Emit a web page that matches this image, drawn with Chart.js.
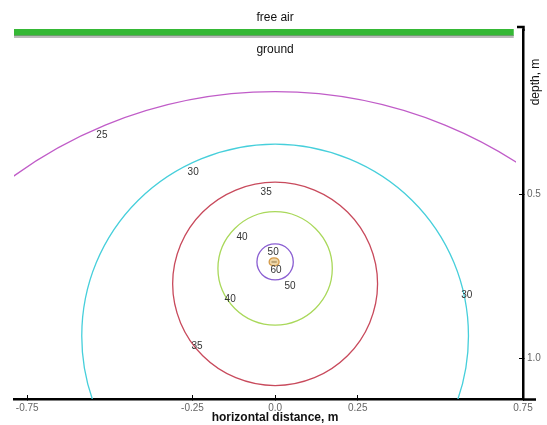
<!DOCTYPE html>
<html>
<head>
<meta charset="utf-8">
<script src="https://cdn.jsdelivr.net/npm/chart.js@4.4.1/dist/chart.umd.min.js"></script>
<style>
  html, body { margin: 0; padding: 0; background: #fff; }
  #wrap { width: 547px; height: 425px; }
</style>
</head>
<body>
<div id="wrap"><canvas id="isotherms"></canvas></div>
<script>
/** ISOTHERMS AROUND A BURIED SOURCE **/

// contour levels and their points: [horizontal distance (m), depth (m)]
var levels = ['25', '30', '35', '40', '50', '60'];

// open arc (only the top of this one is inside the plot)
var contour25 = [[-1.342, 1.530], [-1.240, 1.016], [-0.949, 0.581], [-0.514, 0.290], [0, 0.188],
    [0.514, 0.290], [0.949, 0.581], [1.240, 1.016], [1.342, 1.530]];

// closed loops
var contour30 = [[0, 1.518], [-0.224, 1.473], [-0.414, 1.347], [-0.541, 1.157], [-0.585, 0.933],
    [-0.541, 0.709], [-0.414, 0.519], [-0.224, 0.393], [0, 0.348], [0.224, 0.393], [0.414, 0.519],
    [0.541, 0.709], [0.585, 0.933], [0.541, 1.157], [0.414, 1.347], [0.224, 1.473]];

var contour35 = [[0, 1.084], [-0.119, 1.060], [-0.219, 0.993], [-0.286, 0.893], [-0.310, 0.774],
    [-0.286, 0.655], [-0.219, 0.555], [-0.119, 0.488], [0, 0.464], [0.119, 0.488], [0.219, 0.555],
    [0.286, 0.655], [0.310, 0.774], [0.286, 0.893], [0.219, 0.993], [0.119, 1.060]];

var contour40 = [[0, 0.900], [-0.066, 0.887], [-0.122, 0.849], [-0.160, 0.793], [-0.173, 0.727],
    [-0.160, 0.661], [-0.122, 0.605], [-0.066, 0.567], [0, 0.554], [0.066, 0.567], [0.122, 0.605],
    [0.160, 0.661], [0.173, 0.727], [0.160, 0.793], [0.122, 0.849], [0.066, 0.887]];

var contour50 = [[0, 0.762], [-0.021, 0.758], [-0.039, 0.746], [-0.051, 0.728], [-0.055, 0.707],
    [-0.051, 0.686], [-0.039, 0.668], [-0.021, 0.656], [0, 0.652], [0.021, 0.656], [0.039, 0.668],
    [0.051, 0.686], [0.055, 0.707], [0.051, 0.728], [0.039, 0.746], [0.021, 0.758]];

var contour60 = [[0.012, 0.707], [0.008, 0.716], [-0.003, 0.719], [-0.014, 0.716], [-0.018, 0.707],
    [-0.014, 0.698], [-0.003, 0.695], [0.008, 0.698]];

var source = [[-0.011, 0.707], [0.005, 0.707]];
var groundLine = [[-0.79, 0.008], [0.722, 0.008]];

// contour labels
var labelText  = ['25', '30', '35', '40', '50', '60', '50', '40', '35', '30'];
var labelX     = [-0.524, -0.248, -0.027, -0.100, -0.006, 0.003, 0.045, -0.136, -0.236, 0.580];
var labelDepth = [0.320, 0.433, 0.494, 0.631, 0.677, 0.732, 0.780, 0.820, 0.963, 0.808];

// tick labels
var xTicks = [-0.75, -0.25, 0, 0.25, 0.75];
var yTicks = [0.5, 1.0];

var FONT = '"Liberation Sans", Arial, sans-serif';
Chart.defaults.font.family = FONT;

function pts(arr) {
    return arr.map(function (p) { return { x: p[0], y: p[1] }; });
}

// wrap a closed loop so every visible piece has a neighbour on both sides;
// the two extra end pieces are drawn transparent
function loop(arr) {
    return pts([arr[arr.length - 1]].concat(arr, [arr[0], arr[1]]));
}

var overlay = {
    id: 'overlay',
    afterDraw: function (chart) {
        var ctx = chart.ctx, a = chart.chartArea;
        var x = chart.scales.x, y = chart.scales.y;
        ctx.save();

        // axis line extensions
        ctx.strokeStyle = '#000';
        ctx.lineWidth = 2.5;
        ctx.beginPath();
        ctx.moveTo(a.right, a.bottom + 0.5);
        ctx.lineTo(a.right + 13, a.bottom + 0.5);
        ctx.moveTo(a.right - 6, a.top - 3);
        ctx.lineTo(a.right + 0.5, a.top - 3);
        ctx.lineTo(a.right + 0.5, a.top + 1);
        ctx.stroke();

        // contour labels
        ctx.font = '10px ' + FONT;
        ctx.fillStyle = '#333';
        ctx.textAlign = 'center';
        ctx.textBaseline = 'middle';
        labelText.forEach(function (t, i) {
            ctx.fillText(t, x.getPixelForValue(labelX[i]), y.getPixelForValue(labelDepth[i]));
        });

        // region labels
        var cx = x.getPixelForValue(0);
        ctx.fillStyle = '#111';
        ctx.font = '12px ' + FONT;
        ctx.fillText('free air', cx, a.top - 12);
        ctx.fillText('ground', cx, a.top + 20);

        // axis titles
        ctx.font = 'bold 12px ' + FONT;
        ctx.fillText('horizontal distance, m', (a.left + a.right + 13) / 2, a.bottom + 19);
        ctx.translate(a.right + 13, a.top + 52);
        ctx.rotate(-Math.PI / 2);
        ctx.font = '12px ' + FONT;
        ctx.fillText('depth, m', 0, 0);
        ctx.restore();
    }
};

function contourSet(data, color, extra) {
    var ds = {
        label: '',
        data: data,
        showLine: true,
        borderColor: color,
        borderWidth: 1.3,
        pointRadius: 0,
        tension: 0.343,
        fill: false
    };
    return Object.assign(ds, extra || {});
}

function loopSet(arr, color, extra) {
    var n = arr.length + 3;
    return contourSet(loop(arr), color, Object.assign({
        segment: {
            borderColor: function (c) {
                return (c.p0DataIndex === 0 || c.p1DataIndex === n - 1) ? 'rgba(0,0,0,0)' : undefined;
            }
        }
    }, extra || {}));
}

var isotherms = document.getElementById("isotherms");

var isotherms = new Chart(isotherms, {
    type: 'scatter',
    data: {
        datasets: [
            contourSet(pts(groundLine.map(function (p) { return [p[0], p[1] + 0.012]; })),
                'rgba(140,140,140,0.6)', { borderWidth: 3, tension: 0, clip: false }),
            contourSet(pts(groundLine), '#35b835', { borderWidth: 7, tension: 0, clip: false }),
            contourSet(pts(groundLine), '#22a022', { borderWidth: 3, tension: 0, clip: false, borderDash: [2, 3] }),
            contourSet(pts(contour25), '#c05cc8', { clip: { left: 0, top: 0, right: -7, bottom: 0 } }),
            loopSet(contour30, '#46cfdb'),
            loopSet(contour35, '#c84a5c'),
            loopSet(contour40, '#a9d85a'),
            loopSet(contour50, '#8a5ed2'),
            loopSet(contour60, '#d49a48', { tension: 0.375, fill: 'shape',
                backgroundColor: 'rgba(232,196,130,0.7)' }),
            contourSet(pts(source), '#555', { borderWidth: 2, tension: 0 })
        ]
    },
    options: {
        responsive: true,
        maintainAspectRatio: false,
        animation: false,
        layout: { padding: { left: 14, top: 30, right: 0, bottom: 0 } },
        plugins: {
            legend: { display: false },
            tooltip: { enabled: false }
        },
        scales: {
            x: {
                type: 'linear',
                position: 'bottom',
                min: -0.79,
                max: 0.75,
                afterBuildTicks: function (scale) {
                    scale.ticks = xTicks.map(function (v) { return { value: v }; });
                },
                afterFit: function (scale) { scale.height = 26; },
                border: { color: '#000', width: 2.5 },
                grid: { drawOnChartArea: false, color: '#000', tickLength: -4, tickWidth: 1 },
                ticks: {
                    padding: 7,
                    color: '#666',
                    font: { size: 10 },
                    maxRotation: 0,
                    callback: function (v) { return v === 0 ? '0.0' : v.toFixed(2); }
                }
            },
            y: {
                type: 'linear',
                position: 'right',
                reverse: true,
                min: 0,
                max: 1.125,
                afterBuildTicks: function (scale) {
                    scale.ticks = yTicks.map(function (v) { return { value: v }; });
                },
                afterFit: function (scale) { scale.width = 24; },
                border: { color: '#000', width: 2.5 },
                grid: { drawOnChartArea: false, color: '#000', tickLength: -4, tickWidth: 1 },
                ticks: {
                    padding: 8,
                    color: '#666',
                    font: { size: 10 },
                    callback: function (v) { return v.toFixed(1); }
                }
            }
        }
    },
    plugins: [overlay]
});
</script>
</body>
</html>
